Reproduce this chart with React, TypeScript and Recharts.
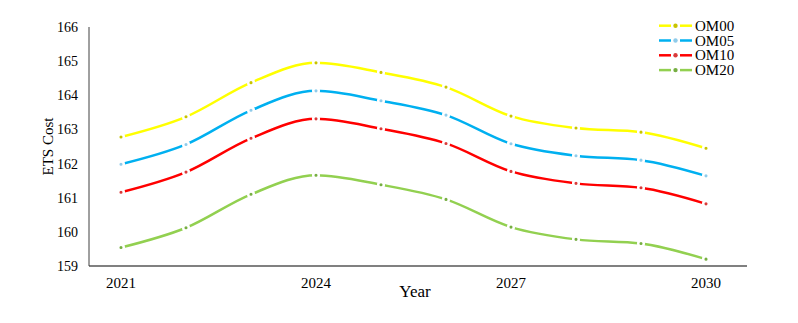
import { LineChart, Line, XAxis, YAxis } from 'recharts';

const years = ['2021', '2022', '2023', '2024', '2025', '2026', '2027', '2028', '2029', '2030'];
const om00 = [162.78, 163.37, 164.37, 164.95, 164.67, 164.24, 163.39, 163.04, 162.92, 162.45];
const om05 = [161.98, 162.56, 163.56, 164.13, 163.84, 163.42, 162.58, 162.23, 162.1, 161.64];
const om10 = [161.16, 161.75, 162.74, 163.31, 163.02, 162.59, 161.77, 161.42, 161.29, 160.82];
const om20 = [159.54, 160.12, 161.1, 161.66, 161.38, 160.95, 160.14, 159.78, 159.66, 159.2];
const yTicks = [159, 160, 161, 162, 163, 164, 165, 166];

const series = [
  { key: 'OM00', line: '#FFFF00', dot: '#C8C400' },
  { key: 'OM05', line: '#00B0F0', dot: '#8FCBEA' },
  { key: 'OM10', line: '#FF0000', dot: '#D93A3A' },
  { key: 'OM20', line: '#92D050', dot: '#76AE42' },
];

const data = years.map((year, i) => ({
  year,
  OM00: om00[i],
  OM05: om05[i],
  OM10: om10[i],
  OM20: om20[i],
}));

const font = '"Liberation Serif", "Times New Roman", serif';

// legend drawn by hand so it doesn't eat into the plot area
function LegendBox() {
  return (
    <svg
      width={110}
      height={64}
      style={{ position: 'absolute', left: 651, top: 10, fontFamily: font }}
    >
      {series.map((s, i) => {
        const cy = 7.7 + i * 14.8;
        return (
          <g key={s.key}>
            <line x1={0} x2={12} y1={cy} y2={cy} stroke={s.line} strokeWidth={2.5} />
            <line x1={21} x2={33} y1={cy} y2={cy} stroke={s.line} strokeWidth={2.5} />
            <circle cx={16.5} cy={cy} r={2.2} fill={s.dot} />
            <text x={36} y={cy + 5} fontSize={15} fill='#000'>
              {s.key}
            </text>
          </g>
        );
      })}
    </svg>
  );
}

export default function App() {
  return (
    <div style={{ position: 'relative', width: 782, height: 307, fontFamily: font }}>
      <LineChart
        width={782}
        height={307}
        data={data}
        margin={{ top: 19, right: 43, left: 0, bottom: 0 }}
      >
        <XAxis
          dataKey='year'
          height={49}
          interval={2}
          padding={{ left: 32, right: 41 }}
          tickLine={false}
          tickSize={6}
          tickMargin={5}
          axisLine={{ stroke: '#808080', strokeWidth: 2 }}
          tick={{ fontSize: 15, fill: '#000', fontFamily: font }}
          label={{
            value: 'Year',
            position: 'center',
            dx: -3,
            fontSize: 17,
            fill: '#000',
            fontFamily: font,
          }}
        />
        <YAxis
          width={81}
          domain={[159, 166]}
          ticks={yTicks}
          interval={0}
          tickLine={false}
          tickSize={6}
          tickMargin={5}
          axisLine={{ stroke: '#404040', strokeWidth: 1 }}
          tick={{ fontSize: 14, fill: '#000', fontFamily: font }}
          label={{
            value: 'ETS Cost',
            angle: -90,
            position: 'center',
            dx: -1,
            fontSize: 15,
            fill: '#000',
            fontFamily: font,
          }}
        />
        {series.map((s) => (
          <Line
            key={s.key}
            type='monotone'
            dataKey={s.key}
            stroke={s.line}
            strokeWidth={2.5}
            dot={{ r: 2.8, fill: s.dot, stroke: '#fff', strokeWidth: 2.5 }}
            activeDot={false}
            isAnimationActive={false}
          />
        ))}
      </LineChart>
      <LegendBox />
    </div>
  );
}
